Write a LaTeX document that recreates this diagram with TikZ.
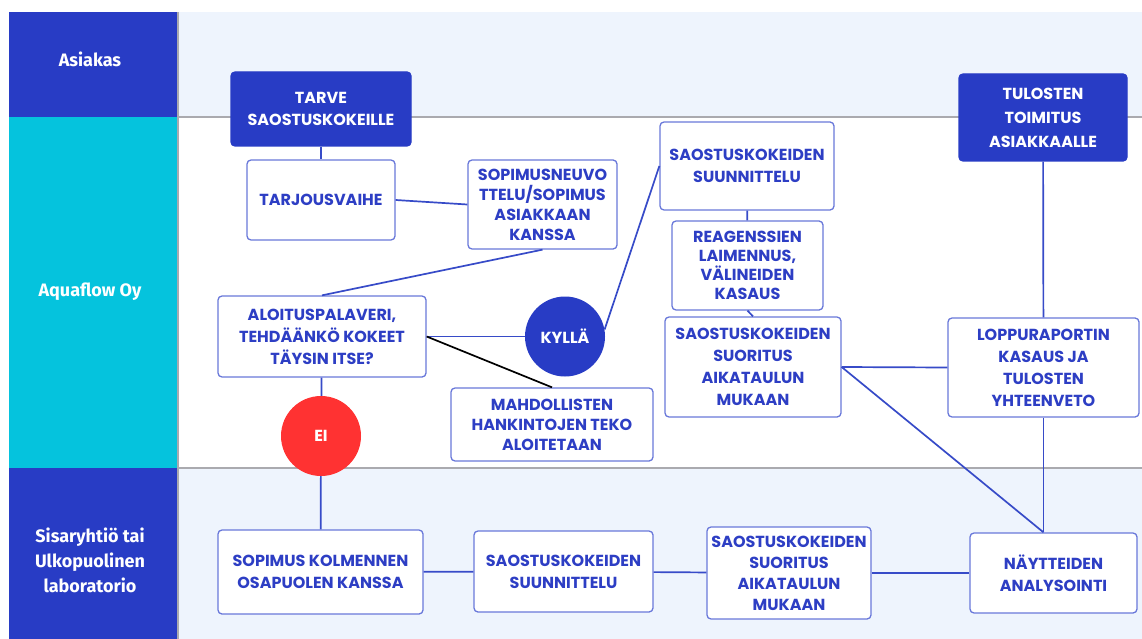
\documentclass[tikz,border=0pt]{standalone}
\usepackage{fontspec}
\setmainfont{Poppins}
\newfontfamily\lanefont{Fira Sans}
\usetikzlibrary{positioning}

\definecolor{navy}{RGB}{40,60,197}
\definecolor{aqua}{RGB}{5,195,221}
\definecolor{pale}{RGB}{238,244,253}
\definecolor{ink}{RGB}{45,62,196}
\definecolor{edge}{RGB}{105,120,218}
\definecolor{wire}{RGB}{55,75,200}
\definecolor{alert}{RGB}{255,50,50}
\definecolor{rule}{RGB}{170,170,175}

\begin{document}
\begin{tikzpicture}[
	x=1pt, y=-1pt,
	box/.style = {draw=edge, line width=1.3pt, fill=white, rounded corners=4pt,
		text=ink, align=center, inner sep=0pt,
		font=\fontsize{16}{22}\selectfont\bfseries},
	darkbox/.style = {box, draw=navy, fill=navy, text=white},
	answer/.style = {circle, inner sep=0pt, minimum size=80pt, text=white,
		font=\fontsize{16}{18}\selectfont\bfseries},
	lane/.style = {text=white, align=center,
		font=\lanefont\fontsize{18}{25}\selectfont\bfseries},
	link/.style = {draw=wire, line width=1.7pt},
	sz/.style 2 args = {minimum width=#1pt, minimum height=#2pt}]

	\useasboundingbox (0,0) rectangle (1142,639);

	% swimlanes
	\fill[pale] (178,12) rectangle (1142,117);
	\fill[white] (178,117) rectangle (1142,468);
	\fill[pale] (178,468) rectangle (1142,639);
	\fill[navy] (9,12) rectangle (178,117);
	\fill[aqua] (9,117) rectangle (178,468);
	\fill[navy] (9,468) rectangle (178,639);
	\draw[rule, line width=1.8pt] (178,117) -- (1142,117) (178,468) -- (1142,468);
	\draw[rule, line width=1.8pt] (178,12) -- (178,639);

	\node[lane] (asiakas) at (90,59) {Asiakas};
	\node[lane] (aquaflow) at (90,292) {Aquaflow Oy};
	\node[lane] (sisar) at (90,560) {Sisaryhtiö tai\\Ulkopuolinen\\laboratorio};

	% customer
	\node[darkbox, sz={180}{74}] (tarve) at (321,109) {TARVE\\SAOSTUSKOKEILLE};
	\node[darkbox, sz={168}{87}, font=\fontsize{16}{24}\selectfont\bfseries] (tulos) at (1043,117.5)
		{TULOSTEN\\TOIMITUS\\ASIAKKAALLE};

	% Aquaflow
	\node[box, sz={148}{80}] (tarjous) at (321,200) {TARJOUSVAIHE};
	\node[box, sz={149}{89}, font=\fontsize{16}{20}\selectfont\bfseries] (sopneu) at (542.5,204.5)
		{SOPIMUSNEUVO\\TTELU/SOPIMUS\\ASIAKKAAN\\KANSSA};
	\node[box, sz={174}{88}] (plan) at (747,166) {SAOSTUSKOKEIDEN\\SUUNNITTELU};
	\node[box, sz={151}{89}, font=\fontsize{16}{19}\selectfont\bfseries] (reag) at (747.5,265.5)
		{REAGENSSIEN\\LAIMENNUS,\\VÄLINEIDEN\\KASAUS};
	\node[box, sz={176}{100}] (suor) at (753,367)
		{SAOSTUSKOKEIDEN\\SUORITUS\\AIKATAULUN\\MUKAAN};
	\node[box, sz={191}{99}] (lopp) at (1043.5,367.5)
		{LOPPURAPORTIN\\KASAUS JA\\TULOSTEN\\YHTEENVETO};
	\node[box, sz={208}{81}] (aloitus) at (322,336.5)
		{ALOITUSPALAVERI,\\TEHDÄÄNKÖ KOKEET\\TÄYSIN ITSE?};
	\node[answer, fill=navy] (kylla) at (565,336.5) {KYLLÄ};
	\node[answer, fill=alert] (ei) at (321,436) {EI};
	\node[box, sz={202}{73}, font=\fontsize{16}{20}\selectfont\bfseries] (mahd) at (552,424.5)
		{MAHDOLLISTEN\\HANKINTOJEN TEKO\\ALOITETAAN};

	% laboratory
	\node[box, sz={205}{84}] (kolm) at (320.5,572) {SOPIMUS KOLMENNEN\\OSAPUOLEN KANSSA};
	\node[box, sz={179}{81}] (labplan) at (563.5,571.5) {SAOSTUSKOKEIDEN\\SUUNNITTELU};
	\node[box, sz={164}{92}, font=\fontsize{16}{21}\selectfont\bfseries] (labsuor) at (789,573)
		{SAOSTUSKOKEIDEN\\SUORITUS\\AIKATAULUN\\MUKAAN};
	\node[box, sz={167}{80}] (nayt) at (1053.5,573) {NÄYTTEIDEN\\ANALYSOINTI};

	\coordinate (naytin) at (nayt.north -| lopp.south);

	\draw[link] (tarve) -- (tarjous);
	\draw[link] (tarjous.east) -- (sopneu.west);
	\draw[link] (sopneu.south) -- (aloitus.north);
	\draw[link] (aloitus.east) -- (kylla.west);
	\draw[line width=1.7pt] (aloitus.east) -- (mahd.north);
	\draw[link] (kylla.10) -- (plan.west);
	\draw[link] (plan) -- (reag);
	\draw[link] (reag.south) -- (suor.north);
	\draw[link] (suor.east) -- (lopp.west);
	\draw[link] (suor.east) -- (naytin);
	\draw[link] (tulos) -- (lopp);
	\draw[link] (lopp.south) -- (naytin);
	\draw[link] (aloitus) -- (ei);
	\draw[link] (ei) -- (kolm);
	\draw[link] (kolm) -- (labplan);
	\draw[link] (labplan) -- (labsuor);
	\draw[link] (labsuor) -- (nayt);
\end{tikzpicture}
\end{document}
